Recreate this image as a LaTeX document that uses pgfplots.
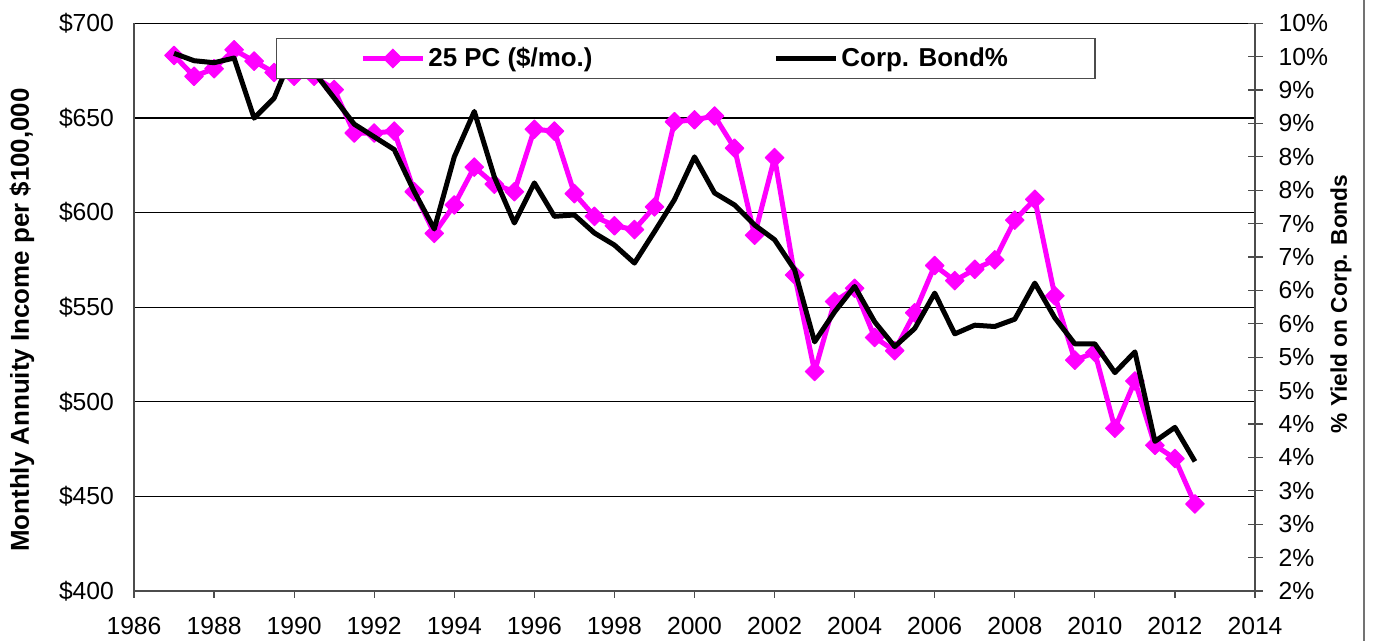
\documentclass[border=0pt]{standalone}
\usepackage{pgfplots}
\pgfplotsset{compat=1.18}
\usepackage{fontspec}
\setmainfont{Liberation Sans}
\definecolor{mag}{RGB}{255,0,255}
\pgfplotstableread{
x y
1987.0 683
1987.5 672
1988.0 676
1988.5 686
1989.0 680
1989.5 674
1990.0 672
1990.5 672
1991.0 665
1991.5 642
1992.0 642
1992.5 643
1993.0 611
1993.5 589
1994.0 604
1994.5 624
1995.0 615
1995.5 611
1996.0 644
1996.5 643
1997.0 610
1997.5 598
1998.0 593
1998.5 591
1999.0 603
1999.5 648
2000.0 649
2000.5 651
2001.0 634
2001.5 588
2002.0 629
2002.5 567
2003.0 516
2003.5 553
2004.0 560
2004.5 534
2005.0 527
2005.5 547
2006.0 572
2006.5 564
2007.0 570
2007.5 575
2008.0 596
2008.5 607
2009.0 556
2009.5 522
2010.0 526
2010.5 486
2011.0 511
2011.5 477
2012.0 470
2012.5 446
}\annuity
\pgfplotstableread{
x y
1987.0 9.55
1987.5 9.44
1988.0 9.41
1988.5 9.48
1989.0 8.58
1989.5 8.88
1990.0 9.60
1990.5 9.27
1991.0 8.88
1991.5 8.49
1992.0 8.30
1992.5 8.11
1993.0 7.48
1993.5 6.92
1994.0 8.00
1994.5 8.68
1995.0 7.70
1995.5 7.01
1996.0 7.61
1996.5 7.11
1997.0 7.13
1997.5 6.86
1998.0 6.68
1998.5 6.41
1999.0 6.88
1999.5 7.36
2000.0 8.00
2000.5 7.46
2001.0 7.28
2001.5 6.98
2002.0 6.76
2002.5 6.31
2003.0 5.23
2003.5 5.68
2004.0 6.06
2004.5 5.53
2005.0 5.16
2005.5 5.43
2006.0 5.96
2006.5 5.35
2007.0 5.48
2007.5 5.46
2008.0 5.57
2008.5 6.11
2009.0 5.59
2009.5 5.20
2010.0 5.20
2010.5 4.77
2011.0 5.08
2011.5 3.74
2012.0 3.95
2012.5 3.44
}\bond
\begin{document}
\begin{tikzpicture}
\path[use as bounding box] (-67bp,-25bp) rectangle (620.5bp,295.5bp);
\begin{axis}[
  scale only axis, width=560.5bp, height=283.85bp,
  at={(0,0)}, anchor=south west,
  xmin=1986, xmax=2014, ymin=400, ymax=700,
  axis x line*=bottom, axis y line*=left,
  axis line style={-, black!70, line width=0.8bp},
  xtick={1986,1988,...,2014},
  xticklabels={1986,1988,1990,1992,1994,1996,1998,2000,2002,2004,2006,2008,2010,2012,2014},
  ytick={400,450,...,700},
  yticklabels={\$400,\$450,\$500,\$550,\$600,\$650,\$700},
  ymajorgrids, grid style={black, line width=0.6bp},
  tick label style={font=\fontsize{12.4}{14}\selectfont},
  tick align=outside, major tick length=3.5bp,
  xtick style={black!70, line width=0.6bp},
  ytick style={draw=none},
  yticklabel style={xshift=-3bp},
  xticklabel style={yshift=-6bp},
  ylabel={Monthly Annuity Income per \$100,000},
  every axis y label/.style={at={(axis description cs:-0.0999,0.4774)}, rotate=90, anchor=center, font=\bfseries\fontsize{13}{15}\selectfont},
  clip=false,
]
\addplot[mag, line width=2.5bp, line join=round, mark=square*, mark size=3.3bp, mark options={rotate=45, line width=0.5bp, fill=mag, draw=mag}] table[x=x,y=y] {\annuity};
\end{axis}
\begin{axis}[
  scale only axis, width=560.5bp, height=283.85bp,
  at={(0,0)}, anchor=south west,
  xmin=1986, xmax=2014, ymin=1.5, ymax=10,
  axis x line=none, axis y line*=right,
  axis line style={-, black!70, line width=0.8bp},
  ytick={1.5,2,...,10},
  yticklabels={2\%,2\%,3\%,3\%,4\%,4\%,5\%,5\%,6\%,6\%,7\%,7\%,8\%,8\%,9\%,9\%,10\%,10\%},
  tick label style={font=\fontsize{12.4}{14}\selectfont},
  ytick align=center, major tick length=7.5bp,
  ytick style={black!70, line width=0.6bp},
  yticklabel style={xshift=4.5bp},
  ylabel={\% Yield on Corp. Bonds},
  every axis y label/.style={at={(axis description cs:1.0767,0.5055)}, rotate=90, anchor=center, font=\bfseries\fontsize{11.4}{13}\selectfont},
  legend columns=2,
  legend style={at={(rel axis cs:0.1264,0.9746)}, anchor=north west, draw=black!70, line width=0.7bp, fill=white,
    font=\bfseries\fontsize{13}{15}\selectfont, inner xsep=42bp, inner ysep=2.5bp,
    nodes={inner xsep=1.5bp, inner ysep=2bp},
    /tikz/every even column/.append style={column sep=89bp}},
  legend image code/.code={\draw[mark repeat=2,mark phase=2,#1] plot coordinates {(0bp,0bp) (15bp,0bp) (30bp,0bp)};},
  clip=false,
]
\addlegendimage{mag, line width=2.5bp, mark=square*, mark size=3.3bp, mark options={rotate=45, line width=0.5bp, fill=mag, draw=mag}}
\addlegendentry{25 PC (\$/mo.)}
\addplot[black, line width=2.5bp, line join=round, no marks] table[x=x,y=y] {\bond};
\addlegendentry{Corp. Bond\%}
\end{axis}
\draw[black!55, line width=1bp] (615.2bp,-25bp) -- (615.2bp,295.5bp);
\end{tikzpicture}
\end{document}
